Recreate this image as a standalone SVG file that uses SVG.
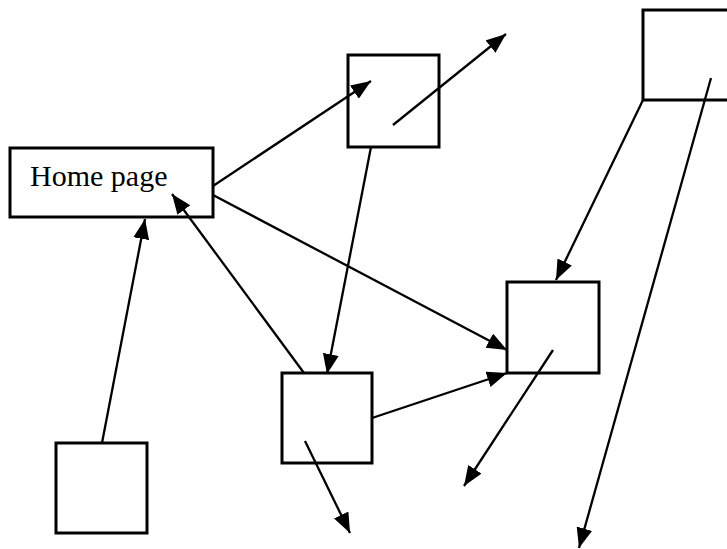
<svg xmlns="http://www.w3.org/2000/svg" width="727" height="549" viewBox="0 0 727 549">
  <style>
    .box { fill: #ffffff; stroke: #000000; stroke-width: 3; }
    .edge { fill: none; stroke: #000000; stroke-width: 2.3; }
    .label { font-family: "Liberation Serif", "Times New Roman", serif; font-size: 30px; fill: #000000; }
  </style>
  <defs>
    <marker id="arrow" markerUnits="userSpaceOnUse" markerWidth="22" markerHeight="18" refX="20" refY="8" orient="auto">
      <path d="M0,0 L20,8 L0,16 z" fill="#000000"/>
    </marker>
  </defs>

  <rect width="727" height="549" fill="#ffffff"/>

  <!-- pages -->
  <g id="home">
    <rect class="box" x="10" y="148" width="203" height="69"/>
    <text class="label" x="30" y="186">Home page</text>
  </g>
  <g id="page-top">
    <rect class="box" x="348" y="55" width="91" height="92"/>
  </g>
  <g id="page-top-right">
    <rect class="box" x="643" y="10" width="90" height="90"/>
  </g>
  <g id="page-right">
    <rect class="box" x="507" y="282" width="92" height="91"/>
  </g>
  <g id="page-middle">
    <rect class="box" x="282" y="373" width="90" height="90"/>
  </g>
  <g id="page-bottom-left">
    <rect class="box" x="56" y="443" width="91" height="90"/>
  </g>

  <!-- links -->
  <g id="connectors">
    <line class="edge" x1="213" y1="186" x2="371" y2="81" marker-end="url(#arrow)"/>
    <line class="edge" x1="393" y1="125" x2="506" y2="34" marker-end="url(#arrow)"/>
    <line class="edge" x1="213" y1="195" x2="507" y2="350" marker-end="url(#arrow)"/>
    <line class="edge" x1="371" y1="147" x2="327" y2="374" marker-end="url(#arrow)"/>
    <line class="edge" x1="304" y1="373" x2="172" y2="194" marker-end="url(#arrow)"/>
    <line class="edge" x1="102" y1="443" x2="145" y2="219" marker-end="url(#arrow)"/>
    <line class="edge" x1="372" y1="418" x2="507" y2="373" marker-end="url(#arrow)"/>
    <line class="edge" x1="643" y1="100" x2="556" y2="280" marker-end="url(#arrow)"/>
    <line class="edge" x1="711" y1="78" x2="579" y2="548" marker-end="url(#arrow)"/>
    <line class="edge" x1="553" y1="350" x2="464" y2="486" marker-end="url(#arrow)"/>
    <line class="edge" x1="305" y1="441" x2="350" y2="533" marker-end="url(#arrow)"/>
  </g>
</svg>
